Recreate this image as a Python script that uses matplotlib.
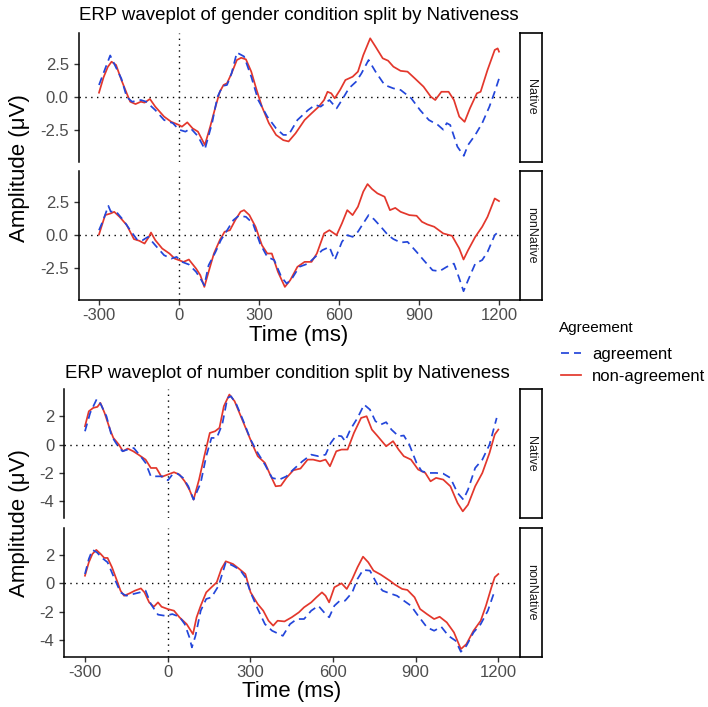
import matplotlib
matplotlib.use("Agg")
import matplotlib.pyplot as plt

plt.rcParams['font.family'] = ['Liberation Sans', 'DejaVu Sans']

# ---------------- data (time ms, amplitude uV) ----------------
gender_native_agreement = [(-300,0.92),(-258,3.18),(-216,1.4),(-196,0.0),(-176,-0.36),(-143,-0.23),(-123,-0.36),(-89,-1.0),(-56,-1.76),(-23,-2.0),(0,-2.5),(24,-2.65),(44,-2.4),(71,-3.0),(97,-4.0),(124,-2.0),(144,0.0),(164,0.85),(180,0.92),(197,1.8),(217,3.4),(244,3.1),(271,1.55),(297,-0.23),(331,-1.5),(364,-2.4),(391,-2.9),(411,-2.9),(444,-1.76),(484,-1.0),(511,-0.6),(531,-0.74),(564,-0.23),(591,-0.87),(611,-0.23),(637,0.66),(664,1.17),(684,1.8),(711,2.83),(737,1.94),(771,0.92),(804,0.66),(831,0.54),(871,-0.1),(904,-1.0),(937,-1.76),(971,-2.14),(991,-2.5),(1004,-2.0),(1017,-2.14),(1044,-3.8),(1068,-4.5),(1084,-3.67),(1111,-2.9),(1137,-2.0),(1164,-0.74),(1184,0.4),(1200,1.4)]
gender_native_nonagreement = [(-300,0.33),(-283,1.5),(-267,2.3),(-253,2.7),(-236,2.45),(-216,1.3),(-196,0.28),(-183,-0.36),(-163,-0.54),(-143,-0.36),(-129,-0.43),(-109,-0.15),(-89,-0.74),(-56,-1.5),(-29,-1.9),(0,-2.14),(11,-2.27),(31,-1.94),(51,-2.4),(71,-2.65),(97,-3.67),(117,-2.27),(137,-0.74),(153,0.4),(167,0.92),(180,1.05),(197,1.8),(217,2.83),(233,3.0),(251,2.88),(271,1.94),(291,0.54),(311,-0.74),(337,-2.0),(364,-2.9),(391,-3.3),(411,-3.4),(437,-2.78),(471,-1.76),(497,-1.25),(524,-0.74),(544,-0.23),(557,0.4),(571,0.28),(584,-0.1),(604,0.54),(624,1.3),(651,1.55),(671,1.94),(691,3.2),(717,4.49),(737,3.85),(764,2.96),(784,2.78),(804,2.32),(831,2.0),(857,1.94),(884,1.43),(917,0.79),(944,0.03),(961,-0.23),(984,0.4),(1011,0.4),(1031,-0.23),(1051,-1.5),(1071,-1.9),(1091,-0.87),(1117,0.28),(1131,0.4),(1157,2.07),(1184,3.6),(1195,3.72),(1200,3.47)]
gender_nonnative_agreement = [(-300,0.38),(-284,1.15),(-265,2.24),(-256,1.8),(-236,1.8),(-209,1.15),(-183,0.38),(-156,-0.38),(-136,-0.38),(-116,-0.13),(-89,-0.77),(-56,-1.53),(-29,-1.79),(-9,-1.66),(11,-2.04),(37,-2.24),(64,-2.8),(84,-3.44),(95,-3.83),(111,-2.3),(137,-1.28),(157,-0.38),(177,0.26),(204,1.15),(224,1.48),(251,1.4),(277,0.9),(304,-0.64),(331,-1.66),(357,-1.9),(384,-3.2),(404,-3.7),(424,-3.3),(451,-2.42),(484,-2.17),(511,-1.66),(537,-1.15),(564,-0.9),(584,-1.9),(611,-0.51),(631,0.0),(651,-0.13),(671,0.26),(691,0.9),(711,1.53),(731,1.22),(757,0.64),(784,0.0),(804,-0.3),(831,-0.56),(857,-0.51),(891,-1.28),(917,-1.9),(951,-2.68),(977,-2.75),(1004,-2.42),(1031,-2.17),(1051,-3.3),(1067,-4.28),(1084,-3.44),(1111,-2.17),(1137,-1.9),(1157,-1.28),(1184,0.0),(1200,0.3)]
gender_nonnative_nonagreement = [(-300,0.05),(-277,1.53),(-256,1.66),(-243,1.78),(-223,1.4),(-196,0.77),(-169,-0.3),(-149,-0.43),(-129,-0.64),(-113,-0.13),(-105,0.2),(-89,-0.38),(-63,-1.02),(-36,-1.4),(-16,-1.79),(0,-1.91),(17,-2.04),(37,-1.86),(64,-2.55),(80,-3.06),(95,-3.95),(111,-2.8),(131,-1.4),(153,-0.38),(171,0.26),(191,0.38),(211,1.15),(231,1.79),(244,1.91),(264,1.53),(287,0.64),(311,-0.77),(331,-1.4),(348,-1.4),(371,-2.8),(397,-3.95),(417,-3.44),(444,-2.42),(471,-2.04),(497,-2.04),(517,-1.4),(544,0.13),(564,0.38),(591,0.0),(611,0.9),(631,1.91),(651,1.53),(671,2.17),(691,3.32),(707,3.9),(724,3.52),(744,3.19),(771,2.93),(791,1.91),(811,2.08),(831,1.78),(864,1.53),(891,1.48),(911,1.02),(931,0.82),(957,0.64),(991,0.13),(1024,-0.05),(1051,-1.02),(1067,-1.86),(1084,-1.15),(1111,-0.13),(1137,0.64),(1157,1.4),(1184,2.8),(1200,2.6)]

number_native_agreement = [(-300,0.94),(-281,2.24),(-257,3.22),(-242,2.82),(-222,2.0),(-203,0.59),(-184,0.0),(-164,-0.47),(-145,-0.35),(-123,-0.24),(-100,-0.78),(-80,-1.29),(-61,-2.24),(-35,-2.24),(-16,-2.24),(1,-2.52),(17,-2.12),(36,-2.05),(56,-2.35),(75,-2.94),(94,-3.88),(120,-2.7),(140,-0.82),(159,0.47),(178,0.47),(198,1.41),(217,3.29),(230,3.41),(250,2.82),(275,1.65),(301,0.35),(327,-0.59),(353,-1.41),(379,-2.35),(405,-2.47),(431,-2.24),(456,-1.76),(489,-1.18),(521,-0.71),(547,-0.82),(573,-0.71),(592,0.12),(612,0.64),(631,0.59),(644,0.24),(663,1.06),(689,1.88),(713,2.82),(734,2.47),(754,1.65),(773,1.41),(793,1.58),(812,1.06),(838,0.59),(857,0.64),(877,0.0),(903,-1.29),(922,-1.88),(948,-2.0),(974,-2.0),(1000,-2.05),(1026,-2.35),(1052,-3.41),(1073,-3.88),(1090,-3.18),(1116,-1.65),(1142,-1.06),(1168,0.0),(1194,1.88)]
number_native_nonagreement = [(-300,1.29),(-286,2.35),(-270,2.59),(-255,2.66),(-244,2.94),(-229,2.24),(-209,1.06),(-197,0.47),(-177,0.0),(-162,-0.47),(-145,-0.28),(-125,-0.47),(-106,-0.71),(-80,-1.06),(-61,-1.65),(-41,-1.65),(-22,-2.28),(0,-2.12),(23,-1.95),(43,-2.12),(62,-2.59),(79,-3.18),(94,-3.88),(114,-2.47),(133,-0.82),(153,0.82),(172,0.94),(188,1.18),(204,2.71),(224,3.53),(243,3.06),(263,2.12),(288,0.94),(308,0.0),(327,-0.82),(353,-1.29),(372,-2.12),(392,-2.94),(411,-2.9),(431,-2.35),(456,-1.81),(482,-1.69),(508,-1.06),(528,-1.06),(553,-1.18),(573,-1.06),(589,-1.53),(612,-0.47),(631,-0.35),(653,-0.35),(676,0.82),(702,1.88),(722,2.0),(741,1.06),(760,0.64),(793,-0.12),(818,0.24),(838,-0.35),(857,-0.82),(883,-1.06),(909,-1.76),(935,-2.0),(954,-2.59),(974,-2.35),(1000,-2.47),(1026,-2.94),(1052,-4.12),(1071,-4.71),(1090,-4.24),(1116,-2.94),(1142,-2.0),(1168,-0.59),(1187,0.71),(1200,1.06)]
number_nonnative_agreement = [(-300,0.66),(-286,1.73),(-273,2.37),(-257,2.2),(-238,1.8),(-218,1.49),(-195,0.43),(-171,-0.64),(-151,-0.88),(-125,-0.76),(-100,-0.64),(-80,-0.52),(-61,-1.47),(-35,-2.22),(-9,-2.3),(17,-2.18),(43,-2.37),(62,-2.89),(79,-3.83),(88,-4.54),(101,-3.72),(120,-1.94),(140,-1.11),(159,-0.99),(185,-0.17),(211,1.49),(237,1.25),(263,0.95),(282,0.43),(301,-0.64),(327,-1.82),(353,-2.89),(379,-3.36),(418,-3.72),(444,-2.89),(469,-2.53),(495,-2.53),(521,-1.94),(547,-1.59),(573,-2.18),(586,-2.41),(605,-1.59),(625,-1.23),(644,-1.23),(670,-0.64),(689,0.31),(709,0.95),(734,0.9),(760,-0.05),(780,-0.52),(806,-0.71),(832,-0.88),(857,-1.23),(883,-1.59),(909,-2.3),(941,-3.12),(967,-3.36),(993,-3.08),(1019,-3.72),(1045,-4.07),(1064,-4.85),(1084,-4.43),(1110,-3.48),(1136,-2.89),(1162,-1.94),(1187,-0.52)]
number_nonnative_nonagreement = [(-300,0.54),(-286,1.49),(-273,2.08),(-259,2.37),(-243,2.08),(-230,1.8),(-218,1.8),(-202,1.14),(-184,0.19),(-171,-0.52),(-158,-0.88),(-138,-0.71),(-119,-0.52),(-97,-0.36),(-84,-0.64),(-67,-1.35),(-50,-1.66),(-35,-1.35),(-22,-1.66),(0,-1.82),(23,-1.94),(43,-2.41),(69,-2.89),(92,-3.6),(105,-2.41),(120,-1.59),(140,-0.64),(159,-0.28),(178,0.07),(195,1.02),(211,1.56),(237,1.37),(260,1.02),(282,0.66),(301,-0.64),(327,-1.47),(347,-1.94),(366,-2.65),(383,-3.0),(399,-2.65),(424,-2.7),(450,-2.41),(476,-2.06),(495,-1.7),(521,-1.35),(540,-0.99),(560,-0.64),(573,-0.88),(586,-1.35),(605,-0.28),(631,0.0),(650,-0.4),(670,0.31),(689,1.14),(709,1.89),(728,1.49),(747,0.9),(773,0.62),(806,0.19),(825,-0.09),(851,-0.4),(870,-0.47),(896,-0.99),(916,-1.82),(941,-2.18),(967,-2.53),(987,-2.37),(1013,-2.77),(1039,-3.48),(1064,-4.66),(1084,-4.31),(1110,-3.36),(1136,-2.65),(1155,-1.59),(1175,-0.28),(1187,0.43),(1200,0.66)]

x_ticks = [-300, 0, 300, 600, 900, 1200]
gender_y_ticks = [-2.5, 0.0, 2.5]
number_y_ticks = [-4, -2, 0, 2]
facet_labels = ["Native", "nonNative"]
legend_labels = ["agreement", "non-agreement"]
legend_title = "Agreement"
titles = ["ERP waveplot of gender condition split by Nativeness",
          "ERP waveplot of number condition split by Nativeness"]
x_title = "Time (ms)"
y_title = "Amplitude (\u03bcV)"

BLUE = "#2346DA"
RED = "#E3372C"

W, H = 708, 707
fig = plt.figure(figsize=(W / 100, H / 100), dpi=100)
fig.patch.set_facecolor("white")


def px_axes(x0, x1, y0, y1):
    return fig.add_axes([x0 / W, 1 - y1 / H, (x1 - x0) / W, (y1 - y0) / H])


def panel(x0, x1, y0, y1, agr, nonagr, yticks, ylim, ylabfmt, bottom, label):
    ax = px_axes(x0, x1, y0, y1)
    ax.set_facecolor("white")
    ax.axhline(0, color="black", lw=1.0, ls=(0, (1, 3.2)), zorder=1)
    ax.axvline(0, color="black", lw=1.0, ls=(0, (1, 3.2)), zorder=1)
    t1, v1 = zip(*agr)
    t2, v2 = zip(*nonagr)
    la, = ax.plot(t1, v1, color=BLUE, lw=1.25, ls=(0, (4.6, 2.9)), zorder=3,
                  solid_joinstyle="round", dash_joinstyle="round")
    lb, = ax.plot(t2, v2, color=RED, lw=1.25, zorder=2, solid_joinstyle="round")
    ax.set_xlim(-375, 1275)
    ax.set_ylim(*ylim)
    ax.set_yticks(yticks)
    ax.set_yticklabels([ylabfmt.format(v) for v in yticks])
    for s in ["top", "right"]:
        ax.spines[s].set_visible(False)
    ax.spines["left"].set_linewidth(1.1)
    ax.spines["bottom"].set_linewidth(1.1)
    ax.tick_params(axis="y", length=3.8, width=1.0, color="#333333",
                   labelcolor="#4D4D4D", labelsize=12, pad=3.5)
    if bottom:
        ax.set_xticks(x_ticks)
        ax.set_xticklabels([str(v) for v in x_ticks])
        ax.tick_params(axis="x", length=3.8, width=1.0, color="#333333",
                       labelcolor="#4D4D4D", labelsize=12, pad=2)
    else:
        ax.spines["bottom"].set_visible(False)
        ax.set_xticks([])
    # strip
    sx = px_axes(x1 + 0.5, 542.3, y0, y1)
    sx.set_facecolor("white")
    sx.set_xticks([])
    sx.set_yticks([])
    for s in sx.spines.values():
        s.set_linewidth(1.2)
        s.set_color("black")
    sx.text(0.5, 0.5, label, rotation=-90, ha="center", va="center",
            fontsize=9, color="#1A1A1A", transform=sx.transAxes)
    return ax, la, lb


# top chart (gender)
g_ylim = (-4.95, 4.92)
ax1, la, lb = panel(79, 519, 32.7, 161.7, gender_native_agreement, gender_native_nonagreement,
                    gender_y_ticks, g_ylim, "{:.1f}", False, facet_labels[0])
panel(79, 519, 170.7, 300, gender_nonnative_agreement, gender_nonnative_nonagreement,
      gender_y_ticks, g_ylim, "{:.1f}", True, facet_labels[1])

# bottom chart (number)
n_ylim = (-5.2, 3.9)
panel(64.3, 519, 389.3, 518.3, number_native_agreement, number_native_nonagreement,
      number_y_ticks, n_ylim, "{:d}", False, facet_labels[0])
panel(64.3, 519, 528.3, 656.7, number_nonnative_agreement, number_nonnative_nonagreement,
      number_y_ticks, n_ylim, "{:d}", True, facet_labels[1])

# titles
fig.text(79 / W, 1 - 15 / H, titles[0], fontsize=13.4, color="black", ha="left", va="center")
fig.text(65 / W, 1 - 373 / H, titles[1], fontsize=13.4, color="black", ha="left", va="center")

# axis titles
fig.text(299 / W, 1 - 335 / H, x_title, fontsize=16, ha="center", va="center")
fig.text(291.7 / W, 1 - 691 / H, x_title, fontsize=16, ha="center", va="center")
fig.text(20 / W, 1 - 168 / H, y_title, fontsize=16, rotation=90, ha="center", va="center")
fig.text(20 / W, 1 - 523 / H, y_title, fontsize=16, rotation=90, ha="center", va="center")

# legend
fig.text(559 / W, 1 - 328 / H, legend_title, fontsize=11, color="black", ha="left", va="center")
leg = fig.legend([la, lb], legend_labels, loc="upper left",
                 bbox_to_anchor=(561 / W, 1 - 347 / H), frameon=False,
                 fontsize=12, handlelength=1.2,
                 handletextpad=0.66, labelspacing=0.42, borderpad=0,
                 borderaxespad=0)

fig.savefig("out.png", dpi=100, facecolor="white")
